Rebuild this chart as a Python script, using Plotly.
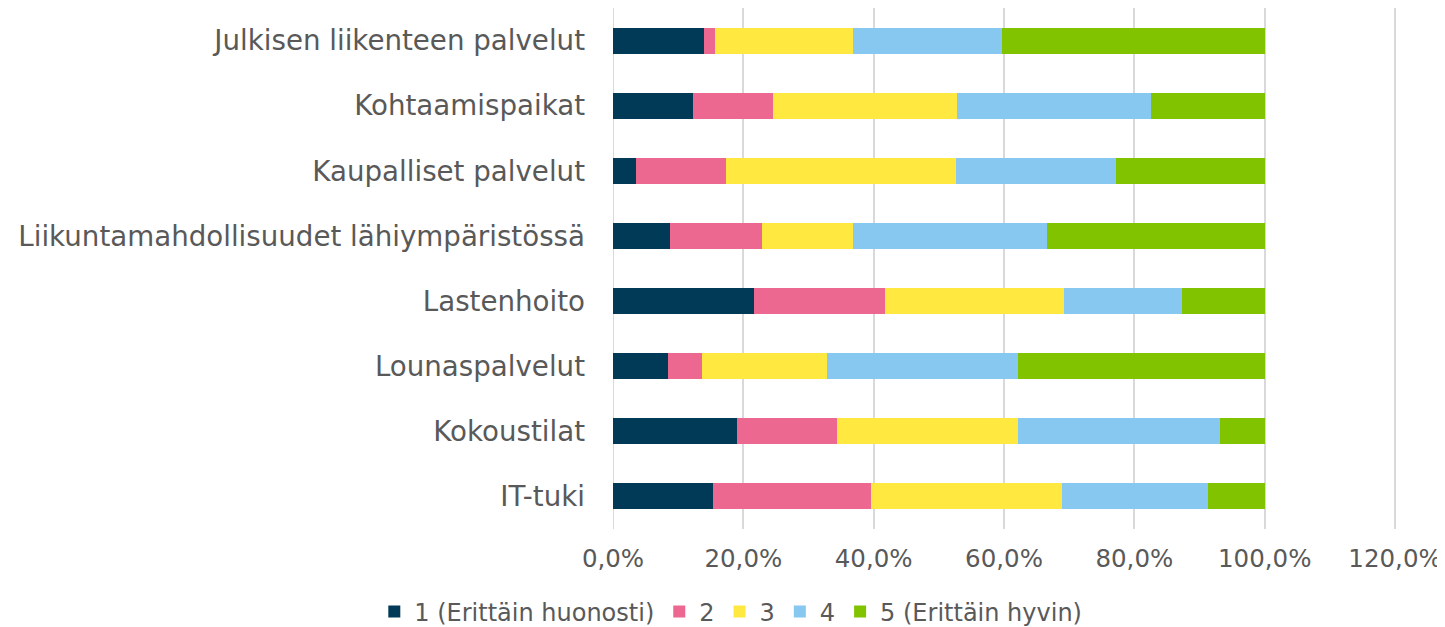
import plotly.graph_objects as go

categories = [
    "Julkisen liikenteen palvelut",
    "Kohtaamispaikat",
    "Kaupalliset palvelut",
    "Liikuntamahdollisuudet lähiympäristössä",
    "Lastenhoito",
    "Lounaspalvelut",
    "Kokoustilat",
    "IT-tuki",
]
series_names = ["1 (Erittäin huonosti)", "2", "3", "4", "5 (Erittäin hyvin)"]
s1 = [13.9, 12.3, 3.5, 8.7, 21.7, 8.5, 19.0, 15.4]
s2 = [1.8, 12.2, 13.9, 14.1, 20.1, 5.2, 15.4, 24.2]
s3 = [21.2, 28.3, 35.2, 14.0, 27.4, 19.1, 27.7, 29.3]
s4 = [22.8, 29.7, 24.6, 29.8, 18.1, 29.3, 31.1, 22.4]
s5 = [40.3, 17.5, 22.8, 33.4, 12.7, 37.9, 6.8, 8.7]
tick_vals = [0, 20, 40, 60, 80, 100, 120]
tick_text = ["0,0%", "20,0%", "40,0%", "60,0%", "80,0%", "100,0%", "120,0%"]

colors = ["#003a57", "#ec6891", "#ffe940", "#86c8f0", "#82c300"]
values = [s1, s2, s3, s4, s5]

fig = go.Figure()
for name, vals, col in zip(series_names, values, colors):
    fig.add_trace(go.Bar(
        y=categories, x=vals, name=name, orientation="h",
        marker=dict(color=col, line=dict(width=0)),
        hoverinfo="x+y+name",
    ))

W, H = 1437, 619
fig.update_layout(
    width=W, height=H,
    barmode="stack", bargap=0.6,
    plot_bgcolor="white", paper_bgcolor="white",
    margin=dict(l=605, r=W - 1389, t=0, b=98, autoexpand=False),
    font=dict(family="DejaVu Sans", color="#595959"),
    showlegend=True,
    legend=dict(
        orientation="h", traceorder="normal",
        xref="container", yref="container",
        x=0.503, xanchor="center", y=15 / H, yanchor="middle",
        font=dict(size=24, color="#595959"),
        itemwidth=30,
    ),
    xaxis=dict(
        range=[0, 120.3], tickvals=tick_vals, ticktext=tick_text,
        showgrid=True, gridcolor="#d9d9d9", gridwidth=2,
        zeroline=False, showline=False,
        tickfont=dict(size=24.5, color="#595959"),
        ticks="", ticklabelstandoff=12,
    ),
    yaxis=dict(
        autorange="reversed", type="category",
        showgrid=False, zeroline=False, showline=False,
        tickfont=dict(size=27.7, color="#595959"),
        ticks="", ticklabelstandoff=27,
        automargin=False,
    ),
)
fig.add_shape(type="line", xref="x", yref="paper", x0=0, x1=0, y0=0, y1=1,
              line=dict(color="#d9d9d9", width=2), layer="below")

fig.write_html("out.html")
